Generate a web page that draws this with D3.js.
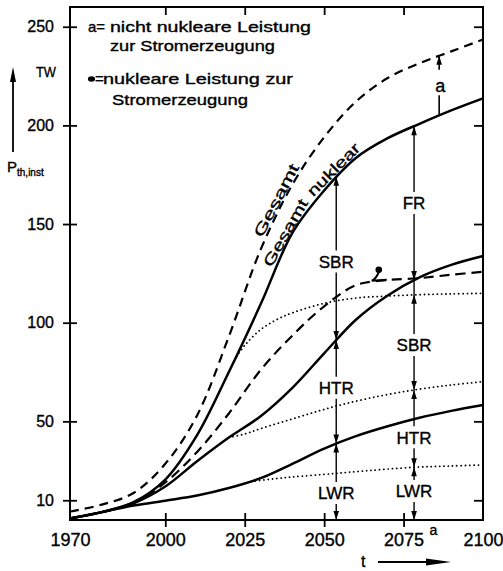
<!DOCTYPE html>
<html>
<head>
<meta charset="utf-8">
<script src="https://cdn.jsdelivr.net/npm/d3@7"></script>
<style>
  html, body { margin: 0; padding: 0; background: #fff; }
  svg { display: block; font-family: "Liberation Sans", Arial, sans-serif; }
  svg text { fill: #000; stroke: #000; stroke-width: 0.35px; }
</style>
</head>
<body>
<svg id="chart" width="503" height="571"></svg>
<script>
// ---- data (TW installed thermal power) ----
const years          = [1970, 1980, 1990, 2000, 2010, 2020, 2030, 2040, 2050, 2060, 2070, 2080, 2090, 2100];
const gesamt         = [4.3, 7.8, 13.7, 28.5, 53, 93, 137, 170, 194, 212, 224, 231.5, 237.5, 243.5];
const gesamtNuklear  = [0.8, 4, 9, 20.5, 43, 75, 109.3, 145.5, 167, 183.5, 193.5, 200.8, 207.6, 213.7];
const nuklearStrom   = [0.8, 4, 8.5, 19, 34.5, 54, 76, 93.5, 108.3, 119, 121.6, 122.6, 124.3, 125.8];
const thermMitte     = [0.8, 4, 8.5, 17, 29.8, 41.8, 52.6, 67, 84.5, 101.5, 113.8, 123, 129.3, 133.8];
const thermUnten     = [0.8, 4, 7.3, 9.8, 12.4, 16.2, 21.2, 28.5, 36.2, 42.5, 47.5, 51.8, 55.3, 58.3];

const dotTopYears    = [2022.4, 2025, 2030, 2035, 2040, 2050, 2060, 2070, 2080, 2090, 2100];
const dotTop         = [82.8, 88.5, 96.5, 101.5, 105, 109.8, 112.5, 113.5, 114.2, 114.6, 114.9];
const dotMidYears    = [2020, 2025, 2030, 2042.4, 2053, 2065, 2078.3, 2090, 2100];
const dotMid         = [41.8, 43.6, 46.3, 52.4, 57.4, 62, 65.9, 68.4, 70.1];
const dotLowYears    = [2027, 2035, 2040, 2053, 2060, 2078, 2090, 2100];
const dotLow         = [19.5, 21, 21.8, 23.5, 24.5, 26.7, 27.4, 27.9];

const yTicks         = [10, 50, 100, 150, 200, 250];
const xTickLabels    = [1970, 2000, 2025, 2050, 2075, 2100];
const xTickMarks     = [2000, 2025, 2050, 2075];

// reactor bands marked along two vertical guides
const guideYears     = [2053.8, 2078.3];
const leftLabels     = ["SBR", "HTR", "LWR"];
const leftLabelVals  = [131, 67, 13.7];
const rightLabels    = ["FR", "SBR", "HTR", "LWR"];
const rightLabelVals = [160.7, 88.7, 42, 14.7];
const aYear          = 2086.2;
const markerPoint    = [2067.2, 126.8];

// ---- scales ----
const x = d3.scaleLinear().domain([1970, 2100]).range([70, 483]);
const y = d3.scaleLinear().domain([0, 260]).range([520, 7]);

const svg = d3.select("#chart");
const line = d3.line().x(d => x(d[0])).y(d => y(d[1])).curve(d3.curveCatmullRom.alpha(0.5));
const zip = (xs, vs) => xs.map((t, i) => [t, vs[i]]);

// ---- frame and axes ----
const axisG = svg.append("g").attr("class", "axes");
axisG.append("rect")
  .attr("x", x(1970)).attr("y", y(260))
  .attr("width", x(2100) - x(1970)).attr("height", y(0) - y(260))
  .attr("fill", "none").attr("stroke", "#000").attr("stroke-width", 2);

const axLeft = axisG.append("g").attr("transform", `translate(${x(1970)},0)`)
  .call(d3.axisLeft(y).tickValues(yTicks).tickSize(7).tickPadding(9));
axLeft.select(".domain").remove();
axLeft.selectAll(".tick line").attr("x1", 7).attr("x2", -7).attr("stroke-width", 1.8);
axLeft.selectAll(".tick text").attr("font-size", 16)
  .attr("font-family", "Liberation Sans, Arial, sans-serif");

const axBottom = axisG.append("g").attr("transform", `translate(0,${y(0)})`)
  .call(d3.axisBottom(x).tickValues(xTickLabels).tickSize(7).tickPadding(6).tickFormat(d3.format("d")));
axBottom.select(".domain").remove();
axBottom.selectAll(".tick line")
  .attr("y1", -7).attr("y2", 7).attr("stroke-width", 1.8)
  .attr("display", d => xTickMarks.includes(d) ? null : "none");
axBottom.selectAll(".tick text").attr("font-size", 18)
  .attr("font-family", "Liberation Sans, Arial, sans-serif");

const axRight = axisG.append("g").attr("transform", `translate(${x(2100)},0)`)
  .call(d3.axisRight(y).tickValues(yTicks).tickSize(-9).tickFormat(""));
axRight.select(".domain").remove();
axRight.selectAll(".tick line").attr("stroke-width", 1.8);

const axTop = axisG.append("g").attr("transform", `translate(0,${y(260)})`)
  .call(d3.axisTop(x).tickValues(xTickMarks).tickSize(-8).tickFormat(""));
axTop.select(".domain").remove();
axTop.selectAll(".tick line").attr("stroke-width", 1.8);

// ---- curves ----
const curves = svg.append("g").attr("fill", "none").attr("stroke", "#000");
const pGesamt = curves.append("path").attr("d", line(zip(years, gesamt)))
  .attr("stroke-width", 2.2).attr("stroke-dasharray", "9,6");
const pNuk = curves.append("path").attr("d", line(zip(years, gesamtNuklear)))
  .attr("stroke-width", 2.5);
const pStrom = curves.append("path").attr("d", line(zip(years, nuklearStrom)))
  .attr("stroke-width", 2.2).attr("stroke-dasharray", "10,6");
const pMitte = curves.append("path").attr("d", line(zip(years, thermMitte)))
  .attr("stroke-width", 2.5);
const pUnten = curves.append("path").attr("d", line(zip(years, thermUnten)))
  .attr("stroke-width", 2.5);
const dotted = p => p.attr("stroke-width", 1.8).attr("stroke-dasharray", "0.1,4.2").attr("stroke-linecap", "round");
const pDotTop = dotted(curves.append("path").attr("d", line(zip(dotTopYears, dotTop))));
const pDotMid = dotted(curves.append("path").attr("d", line(zip(dotMidYears, dotMid))));
const pDotLow = dotted(curves.append("path").attr("d", line(zip(dotLowYears, dotLow))));

// length along a drawn path where it reaches pixel x (bisection)
function lengthAtX(node, px) {
  let lo = 0, hi = node.getTotalLength();
  for (let i = 0; i < 40; i++) {
    const mid = (lo + hi) / 2;
    if (node.getPointAtLength(mid).x < px) lo = mid; else hi = mid;
  }
  return (lo + hi) / 2;
}
const yOnPath = (path, px) => { const n = path.node(); return n.getPointAtLength(lengthAtX(n, px)).y; };

// ---- band arrows ----
const ann = svg.append("g");
function head(px, py, dir) {
  // filled arrowhead with tip at (px,py); dir = -1 points up, +1 points down
  const L = 9, w = 2.8;
  ann.append("path")
    .attr("d", `M${px},${py} L${px - w},${py - dir * L} L${px + w},${py - dir * L} Z`)
    .attr("fill", "#000");
}
// bands: list of [topY, bottomY] in pixels; the guide line runs from the first top to the axis
function guide(gx, bands, labels, labelVals) {
  const gaps = labelVals.map(v => [y(v) - 11, y(v) + 11]);
  let start = bands[0][0];
  gaps.forEach(([g0, g1]) => {
    ann.append("line").attr("x1", gx).attr("x2", gx).attr("y1", start).attr("y2", g0)
      .attr("stroke", "#000").attr("stroke-width", 1.4);
    start = g1;
  });
  ann.append("line").attr("x1", gx).attr("x2", gx).attr("y1", start).attr("y2", y(0))
    .attr("stroke", "#000").attr("stroke-width", 1.4);
  bands.forEach(([t, b], i) => {
    head(gx, t, -1);
    head(gx, b, 1);
    ann.append("text").attr("x", gx).attr("y", y(labelVals[i]) + 6.5)
      .attr("text-anchor", "middle").attr("font-size", 17).text(labels[i]);
  });
}
const gxL = x(guideYears[0]), gxR = x(guideYears[1]);
guide(gxL, [
  [yOnPath(pNuk, gxL), yOnPath(pMitte, gxL)],
  [yOnPath(pMitte, gxL), yOnPath(pUnten, gxL)],
  [yOnPath(pUnten, gxL), y(0)]
], leftLabels, leftLabelVals);
guide(gxR, [
  [yOnPath(pNuk, gxR), yOnPath(pMitte, gxR)],
  [yOnPath(pDotTop, gxR), yOnPath(pDotMid, gxR)],
  [yOnPath(pDotMid, gxR), yOnPath(pDotLow, gxR)],
  [yOnPath(pDotLow, gxR), y(0)]
], rightLabels, rightLabelVals);

// "a" span between total and nuclear total
const ax = x(aYear);
const aTop = yOnPath(pGesamt, ax), aBot = yOnPath(pNuk, ax);
ann.append("line").attr("x1", ax).attr("x2", ax).attr("y1", aTop).attr("y2", aTop + 14)
  .attr("stroke", "#000").attr("stroke-width", 1.6);
head(ax, aTop, -1);
ann.append("line").attr("x1", ax).attr("x2", ax).attr("y1", aBot - 20).attr("y2", aBot)
  .attr("stroke", "#000").attr("stroke-width", 1.6);
ann.append("text").attr("x", ax + 1).attr("y", (aTop + aBot) / 2 + 6)
  .attr("text-anchor", "middle").attr("font-size", 18).text("a");

// marker for the nuclear electricity curve
const mx = x(markerPoint[0]), my = y(markerPoint[1]);
ann.append("circle").attr("cx", mx).attr("cy", my).attr("r", 3.3).attr("fill", "#000");
ann.append("path").attr("d", `M${mx},${my + 2} Q${mx - 2},${my + 8} ${mx - 7},${my + 11} L${mx + 8},${my + 10}`)
  .attr("fill", "none").attr("stroke", "#000").attr("stroke-width", 2);

// curve names: each word is set straight along the chord of its stretch of curve,
// shifted a little to the upper-left side of the line
function nameAlong(path, wordSpans, off, size) {
  const node = path.node();
  wordSpans.forEach(([word, x0, x1]) => {
    const a = node.getPointAtLength(lengthAtX(node, x0));
    const b = node.getPointAtLength(lengthAtX(node, x1));
    const dx = b.x - a.x, dy = b.y - a.y, len = Math.hypot(dx, dy);
    const sx = a.x + dy / len * off, sy = a.y - dx / len * off;
    const ang = Math.atan2(dy, dx) * 180 / Math.PI;
    ann.append("text").attr("transform", `translate(${sx.toFixed(1)},${sy.toFixed(1)}) rotate(${ang.toFixed(1)})`)
      .attr("font-size", size).attr("textLength", len.toFixed(1)).attr("lengthAdjust", "spacingAndGlyphs")
      .text(word);
  });
}
nameAlong(pGesamt, [["Gesamt", 265, 302]], 3, 15);
nameAlong(pNuk, [["Gesamt", 275, 312], ["nuklear", 316, 364]], 4, 15);

// ---- legend ----
const leg = svg.append("g").attr("font-size", 15);
leg.append("text").attr("x", 88).attr("y", 32).text("a=");
leg.append("text").attr("x", 110).attr("y", 32).attr("textLength", 201).attr("lengthAdjust", "spacingAndGlyphs")
  .text("nicht nukleare Leistung");
leg.append("text").attr("x", 110).attr("y", 51).attr("textLength", 165).attr("lengthAdjust", "spacingAndGlyphs")
  .text("zur Stromerzeugung");
leg.append("ellipse").attr("cx", 91.5).attr("cy", 79).attr("rx", 3.6).attr("ry", 2.8).attr("fill", "#000");
leg.append("text").attr("x", 95).attr("y", 84).text("=");
leg.append("text").attr("x", 103).attr("y", 84).attr("textLength", 190).attr("lengthAdjust", "spacingAndGlyphs")
  .text("nukleare Leistung zur");
leg.append("text").attr("x", 112).attr("y", 105).attr("textLength", 136).attr("lengthAdjust", "spacingAndGlyphs")
  .text("Stromerzeugung");

// ---- axis titles ----
const titles = svg.append("g");
titles.append("text").attr("x", 36).attr("y", 77).attr("font-size", 15)
  .attr("textLength", 20).attr("lengthAdjust", "spacingAndGlyphs").text("TW");
titles.append("line").attr("x1", 13).attr("x2", 13).attr("y1", 152).attr("y2", 78)
  .attr("stroke", "#000").attr("stroke-width", 1.8);
titles.append("path").attr("d", "M13,67 L10,82 L16,82 Z").attr("fill", "#000");
const pt = titles.append("text").attr("x", 7).attr("y", 172).attr("font-size", 15);
pt.append("tspan").text("P");
pt.append("tspan").attr("font-size", 10).attr("dy", 4).text("th,inst");
titles.append("text").attr("x", 361).attr("y", 567).attr("font-size", 16).text("t");
titles.append("line").attr("x1", 378).attr("x2", 432).attr("y1", 562).attr("y2", 562)
  .attr("stroke", "#000").attr("stroke-width", 1.8);
titles.append("path").attr("d", "M451,562 L426,558.5 L426,565.5 Z").attr("fill", "#000");
titles.append("text").attr("x", 433.5).attr("y", 535).attr("text-anchor", "middle").attr("font-size", 14).text("a");
</script>
</body>
</html>
